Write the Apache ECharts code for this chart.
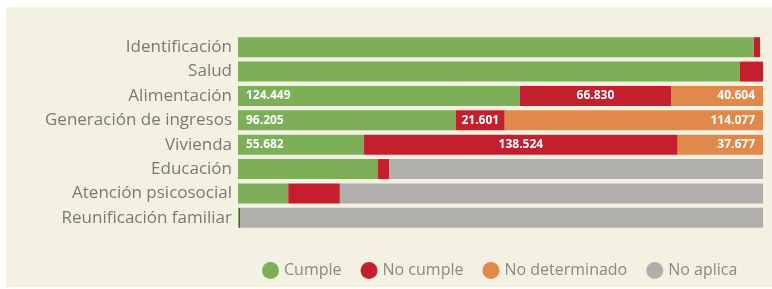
<!DOCTYPE html>
<html>
<head>
<meta charset="utf-8">
<script src="https://cdn.jsdelivr.net/npm/echarts@6/dist/echarts.min.js"></script>
<style>
  html, body { margin: 0; padding: 0; background: #ffffff; }
  #panel { position: absolute; left: 6px; top: 7px; width: 766px; height: 280px; background: #f3f1e2; }
  #chart { position: absolute; left: -6px; top: -7px; width: 772px; height: 289px; }
</style>
</head>
<body>
<div id="panel"><div id="chart"></div></div>
<script>
// categorias (de arriba a abajo)
var categories = ['Identificación', 'Salud', 'Alimentación', 'Generación de ingresos',
  'Vivienda', 'Educación', 'Atención psicosocial', 'Reunificación familiar'];

// valores por estado
var cumple = [227900, 221700, 124449, 96205, 55682, 61700, 22200, 400];
var noCumple = [2700, 10183, 66830, 21601, 138524, 5100, 22800, 500];
var noDeterminado = [0, 0, 40604, 114077, 37677, 0, 0, 0];
var noAplica = [0, 0, 0, 0, 0, 165083, 186883, 230983];

// solo estas filas llevan etiqueta
var labelRows = ['Alimentación', 'Generación de ingresos', 'Vivienda'];

var colors = ['#7dae58', '#c41f2f', '#e0894a', '#b0afac'];

function fmt(v) {
  return String(v).replace(/\B(?=(\d{3})+(?!\d))/g, '.');
}

function seriesOf(name, data, color, pos) {
  return {
    name: name,
    type: 'bar',
    stack: 'total',
    barCategoryGap: '18%',
    itemStyle: { color: color },
    label: {
      show: true,
      position: pos,
      distance: 8,
      color: '#ffffff',
      fontWeight: 'bold',
      fontSize: 12,
      fontFamily: 'Open Sans',
      formatter: function(p) {
        if (labelRows.indexOf(p.name) < 0 || !p.value) return '';
        return fmt(p.value);
      }
    },
    data: data
  };
}

var chart = echarts.init(document.getElementById('chart'));
chart.setOption({
  backgroundColor: 'transparent',
  animation: false,
  grid: { left: 238, right: 9, top: 35, bottom: 59 },
  xAxis: {
    type: 'value',
    min: 0,
    max: 231883,
    show: false
  },
  yAxis: {
    type: 'category',
    inverse: true,
    data: categories,
    axisLine: { show: false },
    axisTick: { show: false },
    axisLabel: { color: '#7a7a72', fontSize: 17, fontFamily: 'Open Sans', margin: 6 }
  },
  legend: {
    bottom: 5,
    left: 257,
    icon: 'circle',
    itemWidth: 17,
    itemHeight: 17,
    itemGap: 19,
    textStyle: { color: '#8a8a82', fontSize: 16, fontFamily: 'Open Sans' },
    data: ['Cumple', 'No cumple', 'No determinado', 'No aplica']
  },
  series: [
    seriesOf('Cumple', cumple, colors[0], 'insideLeft'),
    seriesOf('No cumple', noCumple, colors[1], 'inside'),
    seriesOf('No determinado', noDeterminado, colors[2], 'insideRight'),
    seriesOf('No aplica', noAplica, colors[3], 'inside')
  ]
});
</script>
</body>
</html>
